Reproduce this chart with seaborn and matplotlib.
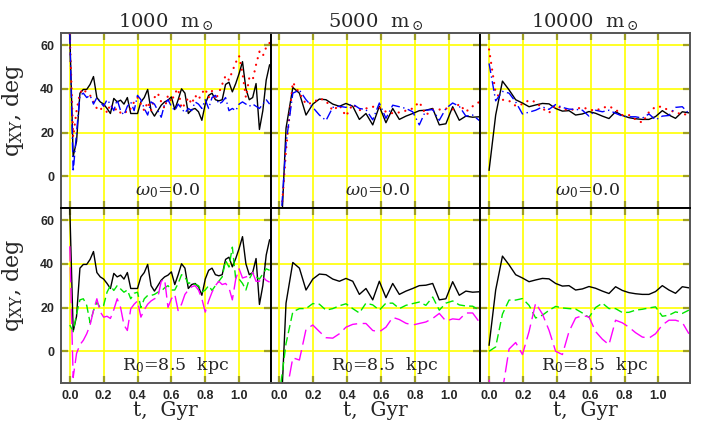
import numpy as np
import matplotlib
matplotlib.use("Agg")
import matplotlib.pyplot as plt
import seaborn as sns

# Time grids (Gyr): fine sampling for the 1000 m_sun runs, coarser for the heavier ones
t_fine = np.round(np.arange(60) * 0.02, 2)
t_coarse = np.round(np.linspace(0.0, 1.18, 31), 3)

masses = ["1000", "5000", "10000"]

# q_XY (deg), reference model (black solid, shared by both rows)
black_1000 = [66, 9, 16, 38, 39.7, 39.7, 42, 45.6, 36, 34,
              33, 31, 28.7, 35.6, 34, 34.8, 33, 36, 28.7, 28.7,
              28.7, 34, 36, 39.7, 30, 27.5, 30, 32.5, 34, 34.8,
              36.3, 30.5, 35, 40, 38, 28.7, 30.5, 31, 29.5, 25.6,
              33, 37, 38, 35, 34.5, 35, 42, 43, 38.6, 42.4,
              47, 52.4, 40, 35, 36, 42.4, 21.4, 30, 44, 51]
black_5000 = [-45, 22, 40.6, 38, 28, 33, 35.3, 35, 33, 32, 33.3, 32, 26, 28.7, 23.5,
              32, 24.5, 31, 26, 27.5, 28.7, 30, 30.2, 31, 23.5, 24, 31.8, 25.6, 27.5, 27, 27.2]
black_10000 = [2.7, 28, 43.5, 39.5, 35, 33.5, 31.8, 32.6, 33.3, 33.1, 31, 29.8, 30, 28, 28.5,
               29.6, 28.8, 27.5, 26.4, 29.5, 27.8, 26.8, 26.3, 26, 26, 27.3, 30, 28, 26.5, 29.5, 29]

# omega_0 = 0.0 variants (top row)
red_1000 = [65, 18, 30, 38, 40, 38, 37, 34, 31, 30,
            33, 29, 33, 30, 31, 29, 30, 29, 31, 34,
            36, 33, 30, 34, 30, 36, 38, 34, 31, 37,
            34, 38, 40, 31, 33, 36, 33, 37, 35, 38,
            40, 36, 39, 35, 38, 42, 46, 44, 48, 52,
            55, 47, 36, 45, 44, 51, 57, 55, 59, 61]
blue_1000 = [65, 2, 20, 37, 38, 36, 37, 33, 36, 34,
             32, 35, 33, 30, 35, 30, 28, 32, 34, 30,
             37, 35, 31, 28, 34, 33, 30, 27, 33, 35,
             32, 30, 33, 31, 29, 31, 30, 34, 33, 31,
             35, 31, 36, 37, 33, 34, 36, 30, 31, 30,
             33, 34, 33, 32, 33, 32, 31, 33, 35, 33]
red_5000 = [-30, 12, 43, 38, 33, 33.6, 35.6, 34.5, 30, 32.5, 27.5, 33, 30.2, 31, 31.8,
            31.4, 29.5, 28.8, 29.2, 30, 31, 34, 28, 30.5, 30.5, 31, 30.5, 33, 29.5, 32, 34]
blue_5000 = [-30, 15, 38, 39.4, 35, 31.5, 28, 25.5, 31.5, 32, 31.5, 33, 31, 30.5, 25.8,
             33.5, 26.5, 32.5, 31.8, 31, 29.5, 23.5, 30.2, 30.5, 25.6, 31, 33.5, 32, 27.5, 28, 25.5]
red_10000 = [58, 38, 35, 34.5, 32.2, 33, 34.8, 34, 31, 29, 32.5, 30.8, 30.2, 30.7, 31.6,
             30.5, 30, 31.3, 32, 30.5, 28, 28, 26, 24.5, 29.3, 31.8, 31.8, 30, 29.5, 28, 28.7]
blue_10000 = [51.6, 34.5, 38.8, 38, 34, 28.5, 29.3, 30.2, 31.7, 30.6, 32.8, 31.5, 30.7, 30.6, 30.2,
              27.5, 30.2, 29.5, 30.2, 28.8, 27.5, 27.2, 27.2, 26.6, 28.5, 25.8, 27.5, 27.8, 31.5, 31.8, 28.7]

# R_0 = 8.5 kpc variants (bottom row)
green_1000 = [12, 9, 17, 23.5, 24, 21, 13, 18.6, 22.4, 20,
              21, 27, 30, 27.8, 30, 28.5, 27, 28, 24, 26.5,
              27, 20, 24, 25.5, 25.5, 26, 27, 27.5, 29, 30,
              28, 28, 31, 35, 34, 31, 31.6, 30.5, 30, 27,
              28, 30, 27.8, 30, 32, 34, 41.5, 38.5, 47.6, 33,
              33, 31, 28, 33, 36, 34, 33, 35.4, 37.7, 37]
magenta_1000 = [48, -12, -1, 3, 5, 8, 12, 18.6, 24, 18,
                15.6, 16, 15, 19, 24, 20, 12, 9.5, 19.4, 21.5,
                23, 15.6, 19, 21.5, 23, 24, 24.7, 32, 33, 20,
                24, 26, 18.6, 21.5, 26, 28, 29.5, 30, 28, 24,
                17.9, 23, 27, 30, 32, 30.5, 31, 29, 23.5, 33,
                37.7, 33.5, 34, 34.5, 36, 32, 32, 34, 32.4, 31.6]
green_5000 = [-20, 3.5, 18, 19.5, 19.5, 21.8, 21.5, 18.8, 19.5, 20.8, 21.7, 19.5, 17.5, 22, 21.2,
              18.8, 22, 22, 19.5, 21, 21.8, 22.5, 21, 24.8, 18.8, 22, 23, 21.2, 20.7, 20.6, 18.8]
magenta_5000 = [-30, -20, -3, -4, 10, 12, 9, 6.2, 6, 8, 11, 12.3, 12.7, 12.7, 9.5,
                8.9, 11, 15.5, 14.5, 12.8, 12, 12.7, 13.4, 15, 17.3, 13.8, 14.8, 14.5, 17.5, 17.5, 13.4]
green_10000 = [0, 2, 17, 23.4, 23.4, 24.1, 21, 15.2, 16.5, 18.7, 20.5, 19.8, 19.5, 19.3, 17.5,
               15.5, 20, 22, 19.5, 19.5, 17.7, 17.8, 18.8, 19.2, 19.8, 20.3, 16, 16.5, 18, 17.3, 18.8]
magenta_10000 = [-13, -30, -18, 1, 4, -1.5, 9, 22, 17, 9.6, 0, -1.5, 9, 15.2, 16.3,
                 15.7, 9, 5.5, 3, 14.2, 13, 11, 8.5, 6.5, 6, 8, 12, 14.2, 14.2, 13.2, 8]

x_ticks = [0.0, 0.2, 0.4, 0.6, 0.8, 1.0]
x_tick_labels = ["0.0", "0.2", "0.4", "0.6", "0.8", "1.0"]
y_ticks = [0, 20, 40, 60]
y_tick_labels = ["0", "20", "40", "60"]

times = [t_fine, t_coarse, t_coarse]
black = [black_1000, black_5000, black_10000]
top_series = [(red_1000, blue_1000), (red_5000, blue_5000), (red_10000, blue_10000)]
bottom_series = [(green_1000, magenta_1000), (green_5000, magenta_5000), (green_10000, magenta_10000)]

STYLE_BLACK = dict(color="black", linewidth=1.0, linestyle="-")
STYLE_RED = dict(color="red", linewidth=1.6, linestyle=(0, (0.05, 3.0)), dash_capstyle="round")
STYLE_BLUE = dict(color="blue", linewidth=1.0, linestyle=(0, (7, 2.5, 1, 2.5)))
STYLE_GREEN = dict(color="#00e600", linewidth=1.0, linestyle=(0, (6, 3)))
STYLE_MAGENTA = dict(color="#ff00ff", linewidth=1.0, linestyle=(0, (11, 4)))

sns.set_theme(style="white")
plt.rcParams["font.family"] = ["DejaVu Serif"]
plt.rcParams["mathtext.fontset"] = "dejavuserif"

fig, axes = plt.subplots(2, 3, figsize=(7.04, 4.26), dpi=100)
fig.subplots_adjust(left=0.0866, right=0.980, top=0.9225, bottom=0.101,
                    wspace=0, hspace=0)

tick_font = dict(fontfamily="Liberation Sans", fontweight="bold", fontsize=9)


def draw(ax, t, y, style):
    sns.lineplot(x=t, y=y, ax=ax, estimator=None, sort=False, legend=False, **style)


for row in range(2):
    for col in range(3):
        ax = axes[row, col]
        t = times[col]
        draw(ax, t, black[col], STYLE_BLACK)
        if row == 0:
            red, blue = top_series[col]
            draw(ax, t, red, STYLE_RED)
            draw(ax, t, blue, STYLE_BLUE)
        else:
            green, magenta = bottom_series[col]
            draw(ax, t, green, STYLE_GREEN)
            draw(ax, t, magenta, STYLE_MAGENTA)

        ax.set_xlim(-0.052, 1.186)
        ax.set_ylim(-14.5, 65.5)
        ax.set_xticks(x_ticks, labels=x_tick_labels, **tick_font)
        ax.set_yticks(y_ticks, labels=y_tick_labels, **tick_font)
        ax.grid(True, color="#ffff00", linewidth=1.2)
        ax.set_axisbelow(True)
        ax.tick_params(direction="in", length=5, width=1.6, color="#a0a020",
                       top=True, right=True, bottom=True, left=True, pad=5,
                       labelbottom=(row == 1), labelleft=(col == 0))
        ax.set_xlabel("")
        ax.set_ylabel("")
        for side, sp in ax.spines.items():
            sp.set_linewidth(1.4)
            sp.set_color("black")
        if row == 0:
            ax.spines["top"].set_color("#555555")
        if row == 1:
            ax.spines["bottom"].set_color("#555555")
        if col == 0:
            ax.spines["left"].set_color("#555555")
        if col == 2:
            ax.spines["right"].set_color("#555555")

        if row == 0:
            ax.set_title(f"{masses[col]}  m$_\\odot$", fontsize=14, pad=4)
            ax.text(0.51, 0.10, r"$\omega_0$=0.0", transform=ax.transAxes,
                    ha="center", va="center", fontsize=12.5)
        else:
            ax.text(0.545, 0.10, r"R$_0$=8.5  kpc", transform=ax.transAxes,
                    ha="center", va="center", fontsize=12.5)
            ax.set_xlabel("t,  Gyr", fontsize=14.5)
            ax.xaxis.set_label_coords(0.5, -0.105)
        if col == 0:
            ax.set_ylabel(r"q$_{\mathrm{XY}}$, deg", fontsize=16)
            ax.yaxis.set_label_coords(-0.165, 0.56)

fig.savefig("out.png", dpi=100)
